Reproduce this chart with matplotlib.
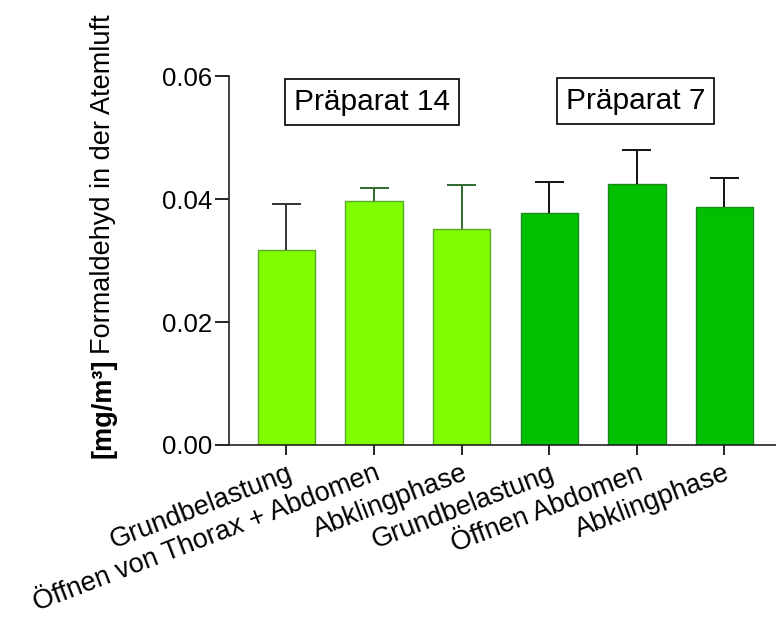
import matplotlib
matplotlib.use("Agg")
import matplotlib.pyplot as plt

plt.rcParams['font.family'] = ['Liberation Sans', 'DejaVu Sans']

# Mean formaldehyde concentration in breathing air and upper SD per phase
categories = ["Grundbelastung", "Öffnen von Thorax + Abdomen", "Abklingphase",
              "Grundbelastung", "Öffnen Abdomen", "Abklingphase"]
means = [0.0317, 0.0397, 0.0351, 0.0377, 0.0424, 0.0387]
upper_sd = [0.0075, 0.0021, 0.0072, 0.0050, 0.0056, 0.0047]
groups = ["Präparat 14", "Präparat 14", "Präparat 14",
          "Präparat 7", "Präparat 7", "Präparat 7"]
yticks = [0.00, 0.02, 0.04, 0.06]

fill = {"Präparat 14": "#80ff00", "Präparat 7": "#00c000"}
edge = {"Präparat 14": "#5aa82a", "Präparat 7": "#1a8a1a"}
errc = ["#333333", "#2e6b2e", "#2e6b2e", "#111111", "#111111", "#111111"]

fig = plt.figure(figsize=(7.76, 6.19), dpi=100)
ax = fig.add_axes([0.2951, 0.2811, 0.7049, 0.5961])

x = list(range(len(categories)))
ax.bar(x, means, width=0.657, color=[fill[g] for g in groups],
       edgecolor=[edge[g] for g in groups], linewidth=1.0, zorder=2)

# Upper-only error bars with a cap at the top
cap = 0.165
for xi, m, e, c in zip(x, means, upper_sd, errc):
    ax.vlines(xi, m, m + e, colors=c, linewidth=1.4, zorder=3)
    ax.hlines(m + e, xi - cap, xi + cap, colors=c, linewidth=1.4, zorder=3)

ax.set_xlim(-0.656, 5.588)
ax.set_ylim(0, 0.06)
ax.set_yticks(yticks)
ax.set_yticklabels([f"{v:.2f}" for v in yticks], fontsize=18.5)
ax.set_xticks(x)
ax.set_xticklabels(categories, rotation=21, ha='right', rotation_mode='anchor',
                   fontsize=19.5)
ax.tick_params(axis='y', length=10, width=1.2, pad=2)
ax.tick_params(axis='x', length=7, width=1.2, pad=4)
for s in ['top', 'right']:
    ax.spines[s].set_visible(False)
for s in ['left', 'bottom']:
    ax.spines[s].set_linewidth(1.2)
    ax.spines[s].set_color('#222222')

# Group labels in boxes
box = dict(boxstyle='square,pad=0.3', facecolor='white', edgecolor='black', linewidth=1.2)
ax.text(0.981, 0.0557, "Präparat 14", ha='center', va='center', fontsize=21.5, bbox=box)
ax.text(3.982, 0.0559, "Präparat 7", ha='center', va='center', fontsize=21.5, bbox=box)

# Y-axis label: bold unit followed by regular description
fig.canvas.draw()
r = fig.canvas.get_renderer()
xl = 103 / 776
t1 = fig.text(xl, 1 - 458 / 619, "[mg/m³]", rotation=90, ha='center', va='bottom',
              fontsize=19.5, fontweight='bold')
bb = t1.get_window_extent(r)
y_top = bb.y1 / fig.bbox.height
fig.text(xl, y_top + 0.008, "Formaldehyd in der Atemluft", rotation=90,
         ha='center', va='bottom', fontsize=19.5)

fig.savefig("out.png", dpi=100)
